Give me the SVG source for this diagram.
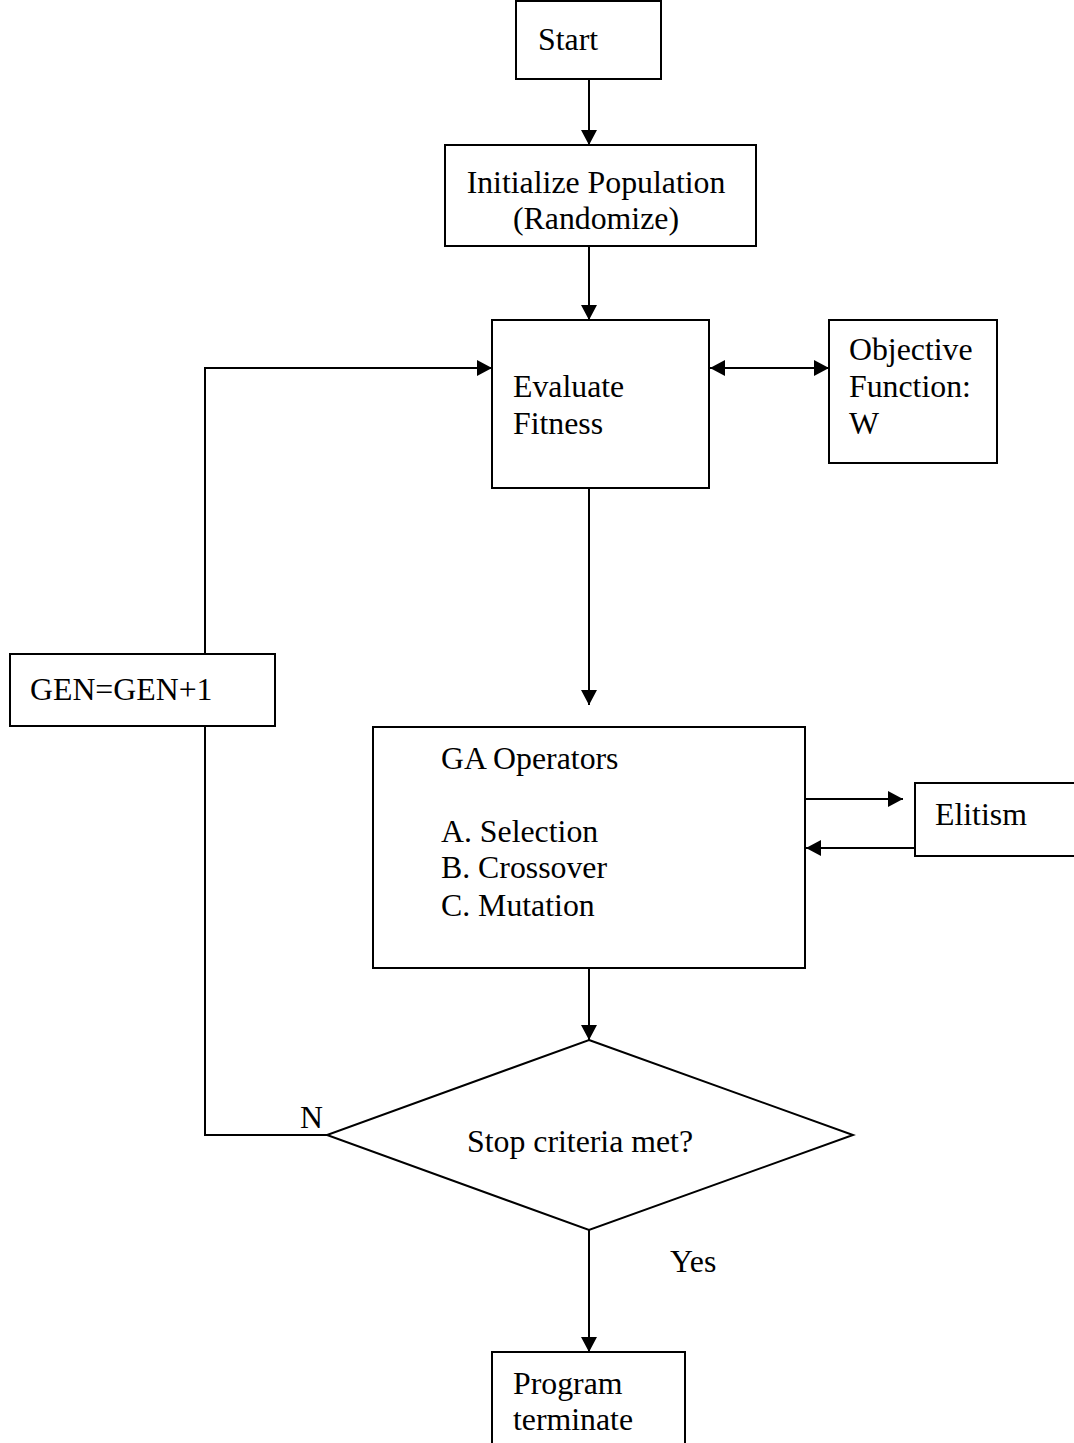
<svg xmlns="http://www.w3.org/2000/svg" width="1074" height="1443" viewBox="0 0 1074 1443">
<defs>
<style>
.box{fill:#fff;stroke:#000;stroke-width:2}
.ln{fill:none;stroke:#000;stroke-width:2}
text{font-family:"Liberation Serif","Times New Roman",serif;font-size:31.8px;fill:#000}
</style>
<marker id="ah" viewBox="0 0 15 16" refX="15" refY="8" markerWidth="15" markerHeight="16" orient="auto-start-reverse" markerUnits="userSpaceOnUse">
<path d="M0,0 L15,8 L0,16 z" fill="#000"/>
</marker>
</defs>
<rect width="1074" height="1443" fill="#fff"/>
<g id="connectors">
<line class="ln" x1="589" y1="79" x2="589" y2="145" marker-end="url(#ah)"/>
<line class="ln" x1="589" y1="246" x2="589" y2="320" marker-end="url(#ah)"/>
<line class="ln" x1="710" y1="368" x2="829" y2="368" marker-start="url(#ah)" marker-end="url(#ah)"/>
<line class="ln" x1="589" y1="488" x2="589" y2="705" marker-end="url(#ah)"/>
<line class="ln" x1="805" y1="799" x2="903" y2="799" marker-end="url(#ah)"/>
<line class="ln" x1="915" y1="848" x2="806" y2="848" marker-end="url(#ah)"/>
<line class="ln" x1="589" y1="968" x2="589" y2="1040" marker-end="url(#ah)"/>
<polyline class="ln" points="327,1135 205,1135 205,727"/>
<polyline class="ln" points="205,654 205,368 492,368" marker-end="url(#ah)"/>
<line class="ln" x1="589" y1="1230" x2="589" y2="1352" marker-end="url(#ah)"/>
</g>
<g id="start"><rect class="box" x="516" y="1" width="145" height="78"/><text x="538" y="50">Start</text></g>
<g id="init"><rect class="box" x="445" y="145" width="311" height="101"/><text x="596" y="193" text-anchor="middle">Initialize Population</text><text x="596" y="229" text-anchor="middle">(Randomize)</text></g>
<g id="evaluate"><rect class="box" x="492" y="320" width="217" height="168"/><text x="513" y="397">Evaluate</text><text x="513" y="434">Fitness</text></g>
<g id="objective"><rect class="box" x="829" y="320" width="168" height="143"/><text x="849" y="360">Objective</text><text x="849" y="397">Function:</text><text x="849" y="434">W</text></g>
<g id="gen"><rect class="box" x="10" y="654" width="265" height="72"/><text x="30" y="700">GEN=GEN+1</text></g>
<g id="ga"><rect class="box" x="373" y="727" width="432" height="241"/><text x="441" y="769">GA Operators</text><text x="441" y="842">A. Selection</text><text x="441" y="878">B. Crossover</text><text x="441" y="916">C. Mutation</text></g>
<g id="elitism"><rect class="box" x="915" y="783" width="160" height="73"/><text x="935" y="825">Elitism</text></g>
<g id="no-label"><text x="300" y="1128">N</text></g>
<g id="decision"><polygon class="box" points="589,1040 853,1135 589,1230 327,1135"/><text x="467" y="1152">Stop criteria met?</text></g>
<g id="yes-label"><text x="670" y="1272">Yes</text></g>
<g id="terminate"><rect class="box" x="492" y="1352" width="193" height="100"/><text x="513" y="1394">Program</text><text x="513" y="1430">terminate</text></g>
</svg>
